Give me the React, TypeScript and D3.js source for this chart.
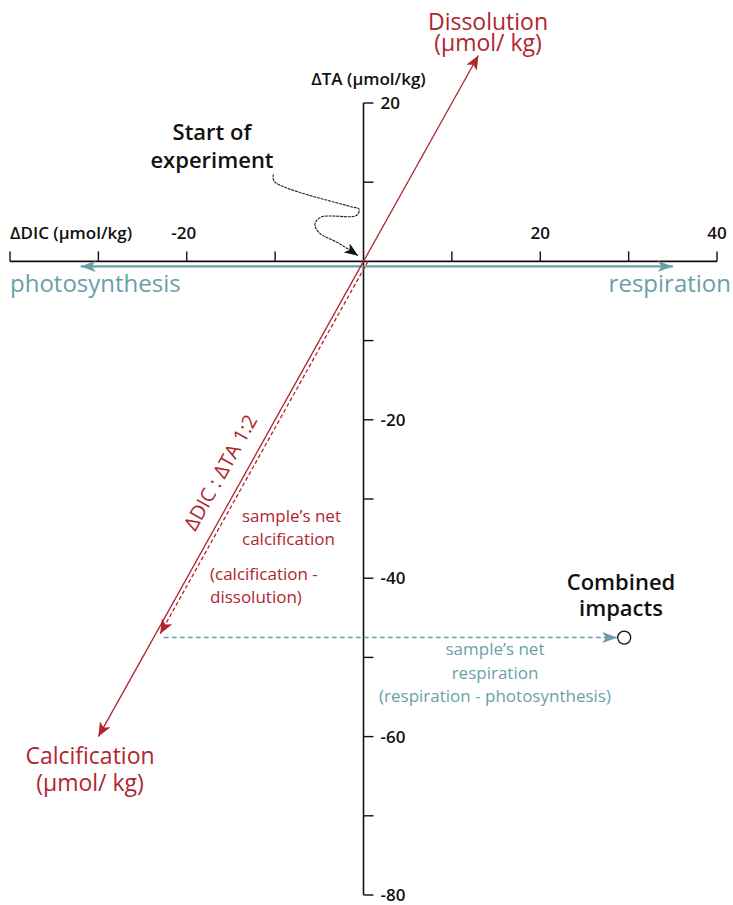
import React, { useEffect, useRef } from 'react';
import * as d3 from 'd3';

// axis ticks (μmol/kg)
const xTicks = [-40, -30, -20, -10, 0, 10, 20, 30, 40];
const xTickLabels = [-20, 20, 40];
const yTicks = [20, 10, 0, -10, -20, -30, -40, -50, -60, -70, -80];
const yTickLabels = [20, -20, -40, -60, -80];

// 1:2 DIC:TA vector, calcification end then dissolution end
const ratioLine: [number, number][] = [[-30, -60], [13, 26]];
// sample's net calcification and net respiration
const netCalc: [number, number][] = [[0.5, 0], [-23, -47]];
const netResp: [number, number][] = [[-22.6, -47.5], [29.5, -47.5]];
const combined: [number, number] = [29.5, -47.5];
// photosynthesis / respiration arrows along DIC axis
const bioArrows = [-32, 35];
// "start of experiment" pointer, data units
const startCurve: [number, number][] = [
  [-10.2, 11.0], [-10.1, 10.1], [-1.4, 6.9], [-0.5, 6.6], [-0.8, 5.8],
  [-4.8, 5.6], [-5.5, 4.7], [-5.0, 3.6], [-2.8, 2.3], [-0.6, 0.7],
];

const RED = '#B0262F';
const TEAL = '#6B9FA8';
const FONT = '"Open Sans", Lato, sans-serif';

export default function App() {
  const ref = useRef<SVGSVGElement>(null);

  useEffect(() => {
    if (!ref.current) return;
    const svg = d3.select(ref.current);
    svg.selectAll('*').remove();

    const x = d3.scaleLinear().domain([-40, 40]).range([10, 717]);
    const y = d3.scaleLinear().domain([-80, 20]).range([895, 103]);

    const defs = svg.append('defs');
    const marker = (id: string, color: string, w: number, h: number) => {
      defs.append('marker')
        .attr('id', id)
        .attr('viewBox', `0 0 ${w} ${h}`)
        .attr('refX', w).attr('refY', h / 2)
        .attr('markerWidth', w).attr('markerHeight', h)
        .attr('markerUnits', 'userSpaceOnUse')
        .attr('orient', 'auto')
        .append('path')
        .attr('d', `M0,0 L${w},${h / 2} L0,${h} L${w * 0.25},${h / 2} Z`)
        .attr('fill', color);
    };
    marker('redArrow', RED, 14, 12);
    marker('tealArrow', TEAL, 15, 11);
    marker('blackArrow', '#111', 14, 11);

    const x0 = x(0);
    const y0 = y(0);
    const tickFont = (sel: d3.Selection<any, any, any, any>) =>
      sel.attr('font-family', FONT).attr('font-size', 17).attr('font-weight', 600).attr('fill', '#111');

    // x axis
    svg.append('line')
      .attr('x1', x(-40)).attr('x2', x(40))
      .attr('y1', y0).attr('y2', y0)
      .attr('stroke', '#111').attr('stroke-width', 1.6);
    svg.selectAll('.xtick').data(xTicks.filter((d) => d !== 0)).enter().append('line')
      .attr('x1', (d) => x(d)).attr('x2', (d) => x(d))
      .attr('y1', y0).attr('y2', y0 - 10)
      .attr('stroke', '#111').attr('stroke-width', 1.4);
    svg.selectAll('.xlab').data(xTickLabels).enter().append('text')
      .attr('x', (d) => x(d) - (d < 0 ? 3 : 0)).attr('y', y0 - 22)
      .attr('text-anchor', 'middle')
      .call(tickFont)
      .text((d) => d);
    svg.append('text')
      .attr('x', 10).attr('y', y0 - 22)
      .call(tickFont)
      .text('ΔDIC (μmol/kg)');

    // y axis
    svg.append('line')
      .attr('x1', x0).attr('x2', x0)
      .attr('y1', y(20)).attr('y2', y(-80))
      .attr('stroke', '#111').attr('stroke-width', 1.6);
    svg.selectAll('.ytick').data(yTicks.filter((d) => d !== 0)).enter().append('line')
      .attr('x1', x0).attr('x2', x0 + 10)
      .attr('y1', (d) => y(d)).attr('y2', (d) => y(d))
      .attr('stroke', '#111').attr('stroke-width', 1.4);
    svg.selectAll('.ylab').data(yTickLabels).enter().append('text')
      .attr('x', x0 + 17).attr('y', (d) => y(d) + 6)
      .call(tickFont)
      .text((d) => d);
    svg.append('text')
      .attr('x', x0 + 5).attr('y', y(20) - 18)
      .attr('text-anchor', 'middle')
      .call(tickFont)
      .text('ΔTA (μmol/kg)');

    // photosynthesis / respiration arrows
    svg.selectAll('.bio').data(bioArrows).enter().append('line')
      .attr('x1', x0).attr('x2', (d) => x(d))
      .attr('y1', y0 + 5).attr('y2', y0 + 5)
      .attr('stroke', TEAL).attr('stroke-width', 2.2)
      .attr('marker-end', 'url(#tealArrow)');
    svg.append('text')
      .attr('x', 10).attr('y', y0 + 31)
      .attr('font-family', FONT).attr('font-size', 24)
      .attr('fill', TEAL).text('photosynthesis');
    svg.append('text')
      .attr('x', 731).attr('y', y0 + 31)
      .attr('text-anchor', 'end')
      .attr('font-family', FONT).attr('font-size', 24)
      .attr('fill', TEAL).text('respiration');

    // 1:2 line, both directions from origin
    ratioLine.forEach((p) => {
      svg.append('line')
        .attr('x1', x0).attr('y1', y0)
        .attr('x2', x(p[0])).attr('y2', y(p[1]))
        .attr('stroke', RED).attr('stroke-width', 1.3)
        .attr('marker-end', 'url(#redArrow)');
    });

    // net calcification (dashed, just beside the 1:2 line)
    svg.append('line')
      .attr('x1', x(netCalc[0][0])).attr('y1', y(netCalc[0][1]))
      .attr('x2', x(netCalc[1][0])).attr('y2', y(netCalc[1][1]))
      .attr('stroke', RED).attr('stroke-width', 1.3)
      .attr('stroke-dasharray', '4,2.5')
      .attr('marker-end', 'url(#redArrow)');

    // net respiration (dashed teal)
    svg.append('line')
      .attr('x1', x(netResp[0][0])).attr('y1', y(netResp[0][1]))
      .attr('x2', x(netResp[1][0]) - 7).attr('y2', y(netResp[1][1]))
      .attr('stroke', TEAL).attr('stroke-width', 1.5)
      .attr('stroke-dasharray', '5,3')
      .attr('marker-end', 'url(#tealArrow)');

    svg.append('circle')
      .attr('cx', x(combined[0])).attr('cy', y(combined[1]))
      .attr('r', 6.5)
      .attr('fill', '#fff').attr('stroke', '#111').attr('stroke-width', 1.3);

    // start of experiment pointer
    const curve = d3.line<[number, number]>()
      .x((d) => x(d[0])).y((d) => y(d[1]))
      .curve(d3.curveCatmullRom.alpha(0.5));
    svg.append('path')
      .attr('d', curve(startCurve))
      .attr('fill', 'none')
      .attr('stroke', '#222').attr('stroke-width', 1.1)
      .attr('stroke-dasharray', '3,0.8')
      .attr('marker-end', 'url(#blackArrow)');

    const multi = (lines: string[], cx: number, cy: number, size: number, color: string,
      lh: number, anchor = 'middle', weight = 400) => {
      const t = svg.append('text')
        .attr('font-family', FONT).attr('font-size', size).attr('font-weight', weight)
        .attr('fill', color).attr('text-anchor', anchor);
      lines.forEach((s, i) => {
        t.append('tspan').attr('x', cx).attr('y', cy + i * lh).text(s);
      });
    };

    multi(['Dissolution', '(μmol/ kg)'], 488, 30, 23, RED, 21);
    multi(['Calcification', '(μmol/ kg)'], 90, 764, 23, RED, 27);
    multi(['Start of', 'experiment'], 212, 140, 22, '#111', 28, 'middle', 600);
    multi(['Combined', 'impacts'], 621, 590, 22, '#111', 26, 'middle', 600);
    multi(['sample\u2019s net', 'calcification'], 242, 522, 17, RED, 23, 'start');
    multi(['(calcification -', 'dissolution)'], 210, 580, 17, RED, 23, 'start');
    multi(['sample\u2019s net', 'respiration', '(respiration - photosynthesis)'], 495, 655, 17, TEAL, 23.5);

    // rotated ratio label
    const ang = Math.atan2(y(ratioLine[1][1]) - y(0), x(ratioLine[1][0]) - x(0)) * 180 / Math.PI;
    const lx = x(-14);
    const ly = y(-28);
    svg.append('text')
      .attr('transform', `translate(${lx},${ly}) rotate(${ang}) translate(0,-15)`)
      .attr('text-anchor', 'middle')
      .attr('font-family', FONT).attr('font-size', 20)
      .attr('fill', RED)
      .text('ΔDIC : ΔTA  1:2');
  }, []);

  return (
    <svg
      ref={ref}
      width={733}
      height={905}
      style={{ position: 'absolute', left: 0, top: 0, background: '#fff' }}
    />
  );
}
